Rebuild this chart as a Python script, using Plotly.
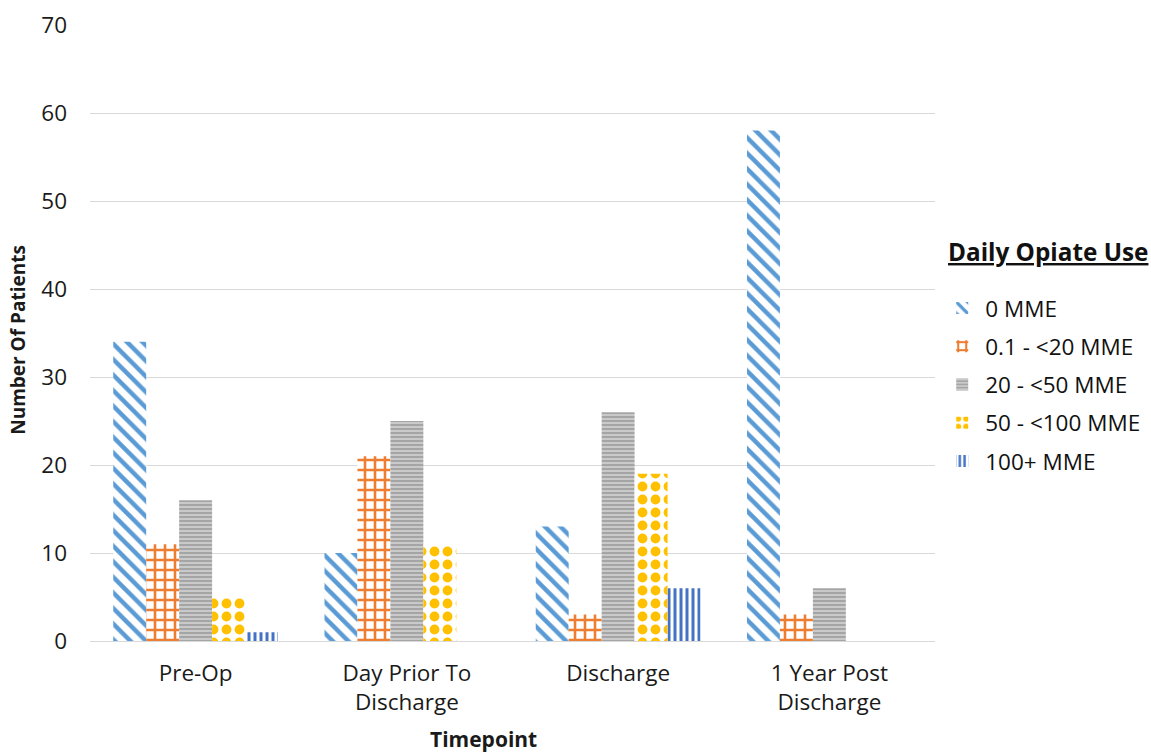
import plotly.graph_objects as go

timepoints = ["Pre-Op", "Day Prior To<br>Discharge", "Discharge", "1 Year Post<br>Discharge"]
series_names = ["0 MME", "0.1 - <20 MME", "20 - <50 MME", "50 - <100 MME", "100+ MME"]
mme_0 = [34, 10, 13, 58]
mme_0_20 = [11, 21, 3, 3]
mme_20_50 = [16, 25, 26, 6]
mme_50_100 = [5, 11, 19, 0]
mme_100_plus = [1, 0, 6, 0]
values = [mme_0, mme_0_20, mme_20_50, mme_50_100, mme_100_plus]

# fill pattern per series: (shape, fg colour, bg colour, size, solidity)
patterns = [
    dict(shape="\\", fgcolor="#5B9BD5", bgcolor="white", size=11, solidity=0.4),
    dict(shape="+", fgcolor="#ED7D31", bgcolor="white", size=10, solidity=0.45),
    dict(shape="-", fgcolor="white", bgcolor="#A5A5A5", size=4, solidity=0.2),
    dict(shape=".", fgcolor="#FFC000", bgcolor="white", size=13, solidity=0.45),
    dict(shape="|", fgcolor="#4472C4", bgcolor="white", size=6, solidity=0.5),
]

fig = go.Figure()
for i, (name, vals, pat) in enumerate(zip(series_names, values, patterns)):
    fig.add_trace(go.Bar(
        x=timepoints, y=vals, name=name, legendgroup=f"g{i}",
        marker=dict(color=pat["bgcolor"], line=dict(width=0),
                    pattern=dict(shape=pat["shape"], fgcolor=pat["fgcolor"],
                                 bgcolor=pat["bgcolor"], size=pat["size"],
                                 solidity=pat["solidity"], fillmode="replace")),
    ))

base_font = "Open Sans, DejaVu Sans, sans-serif"
fig.update_layout(
    width=1151, height=753,
    margin=dict(l=90, r=216, t=25, b=112),
    paper_bgcolor="white", plot_bgcolor="white",
    barmode="group", bargap=0.22, bargroupgap=0,
    font=dict(family=base_font, size=22, color="#1a1a1a"),
    showlegend=True,
    legend=dict(
        xref="container", x=0.816, xanchor="left", y=0.575, yanchor="top",
        font=dict(size=22.5, color="#111111"),
        itemwidth=36, tracegroupgap=6,
    ),
    xaxis=dict(
        tickfont=dict(size=22.5), showline=False, ticks="", ticklabelstandoff=16,
        automargin=False,
    ),
    yaxis=dict(
        range=[0, 70], dtick=10, tickfont=dict(size=22.5), ticklabelstandoff=22,
        showgrid=True, gridcolor="#D9D9D9", gridwidth=1,
        zeroline=True, zerolinecolor="#D9D9D9", zerolinewidth=1,
        ticks="", automargin=False,
    ),
    annotations=[
        dict(text="<b><span style='text-decoration:underline'>Daily Opiate Use</span></b>",
             xref="paper", yref="paper", x=1.0135, y=0.632, xanchor="left", yanchor="middle",
             showarrow=False, font=dict(size=24.3, color="#111111")),
        dict(text="<b>Timepoint</b>", xref="paper", yref="paper",
             x=0.466, y=-0.159, xanchor="center", yanchor="middle",
             showarrow=False, font=dict(size=21)),
        dict(text="<b>Number Of Patients</b>", xref="paper", yref="paper",
             x=-0.0852, y=0.489, xanchor="center", yanchor="middle", textangle=-90,
             showarrow=False, font=dict(size=19)),
    ],
)

fig.write_html("out.html")
